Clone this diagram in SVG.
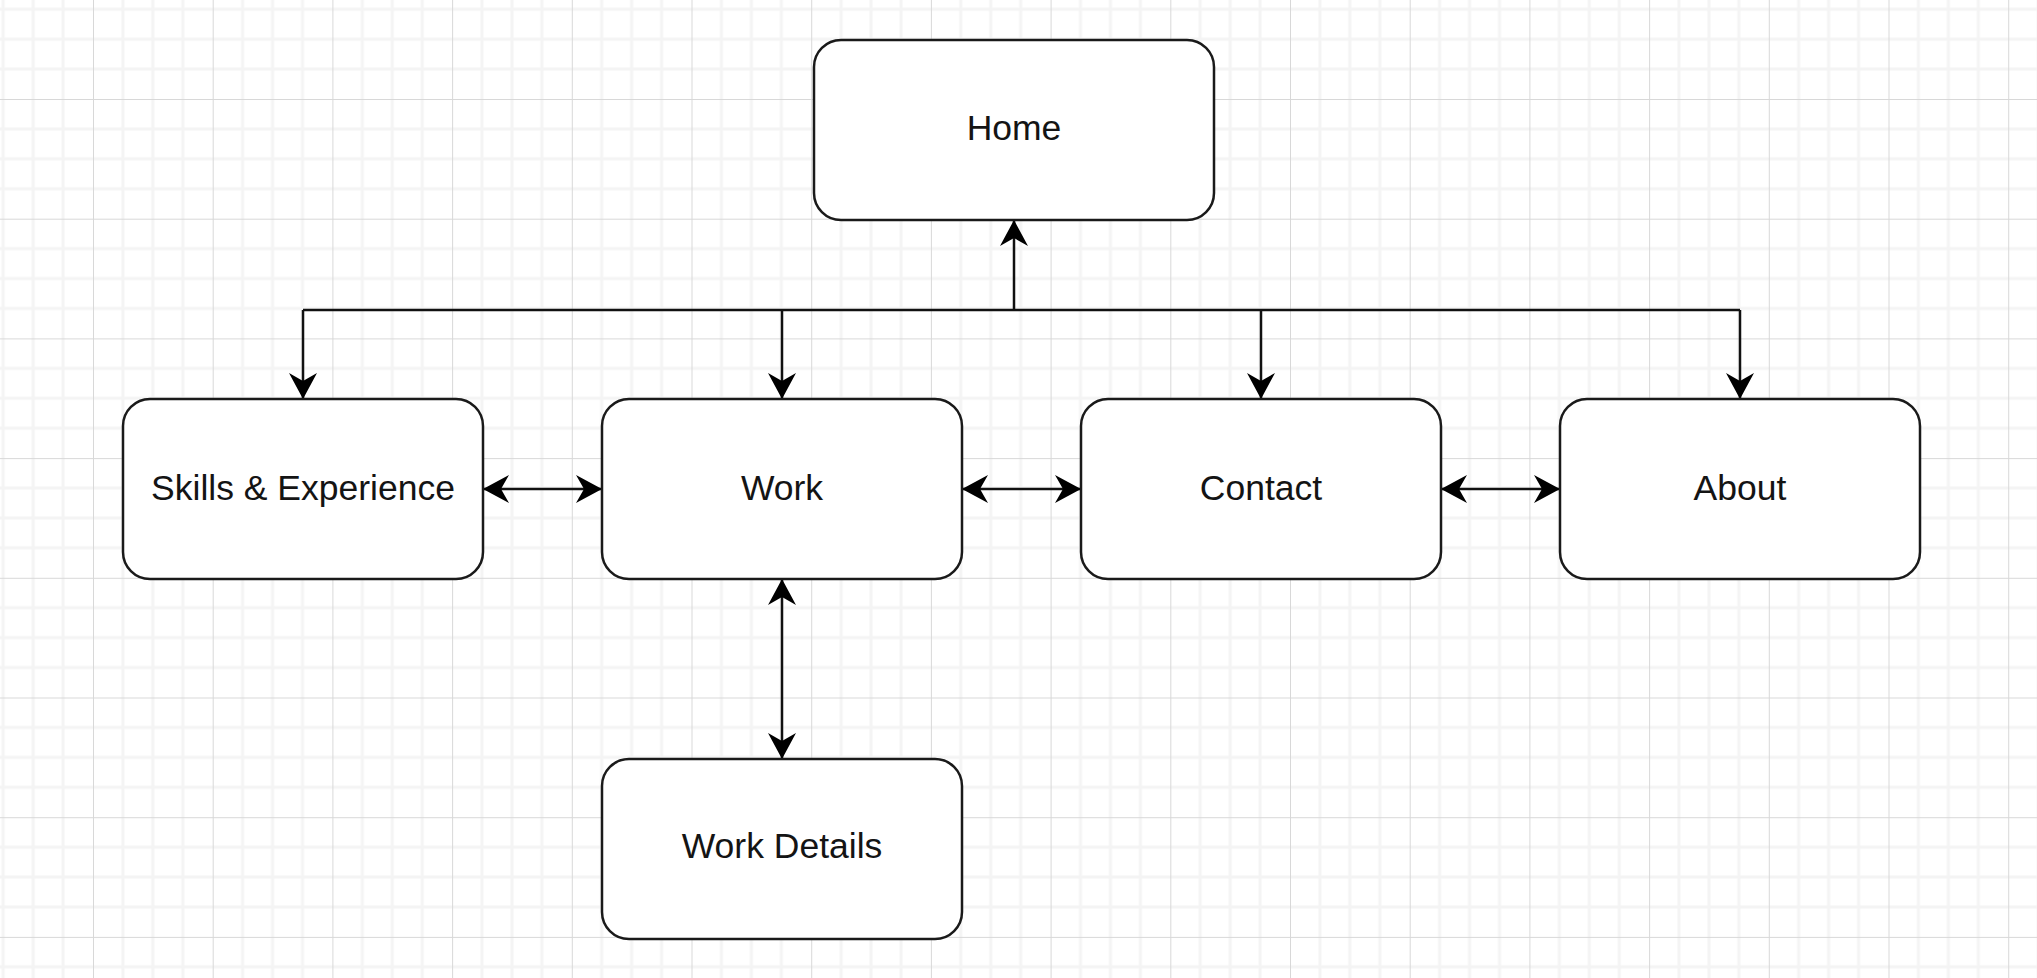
<svg xmlns="http://www.w3.org/2000/svg" width="2037" height="978" viewBox="0 0 2037 978">
<style>
.node rect{fill:#ffffff;stroke:#1a1a1a;stroke-width:2.5}
.node text{font-family:"Liberation Sans",Arial,sans-serif;font-size:35.5px;fill:#141414;text-anchor:middle}
.conn path{fill:none;stroke:#111111;stroke-width:2.5}
.minor{stroke:#f4f4f4;stroke-width:3}
.major{stroke:#d8d8d8;stroke-width:2}
</style>
<defs>
<pattern id="grid" patternUnits="userSpaceOnUse" x="93" y="99" width="119.7" height="119.7">
<path class="minor" d="M29.9,0V119.7M59.85,0V119.7M89.8,0V119.7M0,29.9H119.7M0,59.85H119.7M0,89.8H119.7"/>
<path class="major" d="M0,0V119.7M0,0H119.7"/>
</pattern>
<marker id="arr" markerUnits="userSpaceOnUse" viewBox="0 0 26 28" markerWidth="26" markerHeight="28" refX="25" refY="14" orient="auto-start-reverse">
<path d="M26,14 L0,0 L8,14 L0,28 Z" fill="#000000"/>
</marker>
</defs>
<rect width="2037" height="978" fill="#ffffff"/>
<rect width="2037" height="978" fill="url(#grid)"/>
<g class="conn" id="connectors">
<path d="M303,310 H1740"/>
<path d="M1014,310 V221" marker-end="url(#arr)"/>
<path d="M303,310 V398" marker-end="url(#arr)"/>
<path d="M782,310 V398" marker-end="url(#arr)"/>
<path d="M1261,310 V398" marker-end="url(#arr)"/>
<path d="M1740,310 V398" marker-end="url(#arr)"/>
<path d="M484,489 H601" marker-start="url(#arr)" marker-end="url(#arr)"/>
<path d="M963,489 H1080" marker-start="url(#arr)" marker-end="url(#arr)"/>
<path d="M1442,489 H1559" marker-start="url(#arr)" marker-end="url(#arr)"/>
<path d="M782,580 V758" marker-start="url(#arr)" marker-end="url(#arr)"/>
</g>
<g class="node" id="home"><rect x="814" y="40" width="400" height="180" rx="27"/><text x="1014" y="139.5">Home</text></g>
<g class="node" id="skills"><rect x="123" y="399" width="360" height="180" rx="27"/><text x="303" y="499.5">Skills &amp; Experience</text></g>
<g class="node" id="work"><rect x="602" y="399" width="360" height="180" rx="27"/><text x="782" y="499.5">Work</text></g>
<g class="node" id="contact"><rect x="1081" y="399" width="360" height="180" rx="27"/><text x="1261" y="499.5">Contact</text></g>
<g class="node" id="about"><rect x="1560" y="399" width="360" height="180" rx="27"/><text x="1740" y="499.5">About</text></g>
<g class="node" id="work-details"><rect x="602" y="759" width="360" height="180" rx="27"/><text x="782" y="858">Work Details</text></g>
</svg>
